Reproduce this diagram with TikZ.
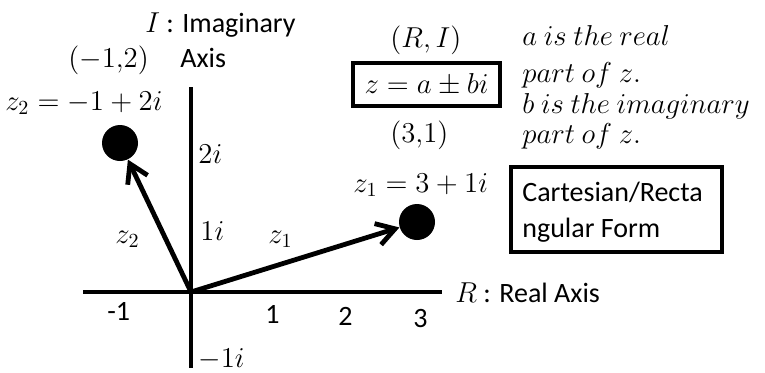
\documentclass[tikz,border=0pt]{standalone}
\usepackage{fontspec}
\setmainfont{Carlito}
\usetikzlibrary{arrows.meta,positioning}

\begin{document}
\begin{tikzpicture}[
  x=0.5pt, y=-0.5pt,
  font=\fontsize{14}{17}\selectfont,
  axis/.style={line width=2pt},
  vec/.style={line width=2.4pt, -{Straight Barb[length=9pt,width=11pt]}},
  pt/.style={circle, fill=black, minimum size=18pt, inner sep=0pt},
  lbl/.style={inner sep=0pt, anchor=base west},
  mlbl/.style={lbl, font=\fontsize{14.7}{17}\selectfont},
  frame/.style={draw, line width=1.7pt, inner sep=0pt}
]
\useasboundingbox (0,0) rectangle (765,372);
% axes
\coordinate (O) at (191,292);
\coordinate (xl) at (83,292);
\coordinate (xr) at (442,292);
\coordinate (yt) at (191,87);
\coordinate (yb) at (191,368);
\draw[axis] (xl) -- (xr);
\draw[axis] (yt) -- (yb);
% points and vectors
\node[pt] (p1) at (417,222) {};
\node[pt] (p2) at (120,143) {};
\draw[vec] (O) -- (p1);
\draw[vec] (O) -- (p2);
% axis names and ticks
\node[lbl] (imag) at (145,32) {$I$ : Imaginary};
\node[lbl] (imag2) at (180,67) {Axis};
\node[lbl] (real) at (455,302) {$R$ : Real Axis};
\node[mlbl] (t2) at (198,163) {$2i$};
\node[mlbl] (t1) at (200,240) {$1i$};
\node[mlbl] (tm1) at (198,367) {$-1i$};
\node[lbl] (xm1) at (107,320) {-1};
\node[lbl] (x1) at (265,323) {1};
\node[lbl] (x2) at (338,325) {2};
\node[lbl] (x3) at (413,327) {3};
% point labels
\node[mlbl] (c2) at (68,67) {$(-1{,}2)$};
\node[mlbl] (z2eq) at (5,110) {$z_2=-1+2i$};
\node[mlbl] (z2lab) at (115,243) {$z_2$};
\node[mlbl] (z1lab) at (268,243) {$z_1$};
\node[mlbl] (c1) at (390,142) {$(3{,}1)$};
\node[mlbl] (z1eq) at (353,192) {$z_1=3+1i$};
% general form
\node[mlbl] (ri) at (390,47) {$(R,I)$};
\node[frame, minimum width=73.5pt, minimum height=21.5pt] (form) at (426.5,84.5) {\fontsize{14.7}{17}\selectfont$z=a\pm bi$};
\node[mlbl] (n1) at (522,45) {$a\ is\ the\ real$};
\node[mlbl] (n2) at (522,82) {$part\ of\ z.$};
\node[mlbl] (n3) at (522,113) {$b\ is\ the\ imaginary$};
\node[mlbl] (n4) at (522,143) {$part\ of\ z.$};
\node[frame, minimum width=105.5pt, minimum height=42.5pt] (cart) at (616.5,209.5) {};
\node[lbl] (cart1) at (522,201) {Cartesian/Recta};
\node[lbl] (cart2) at (522,237) {ngular Form};
\end{tikzpicture}
\end{document}
